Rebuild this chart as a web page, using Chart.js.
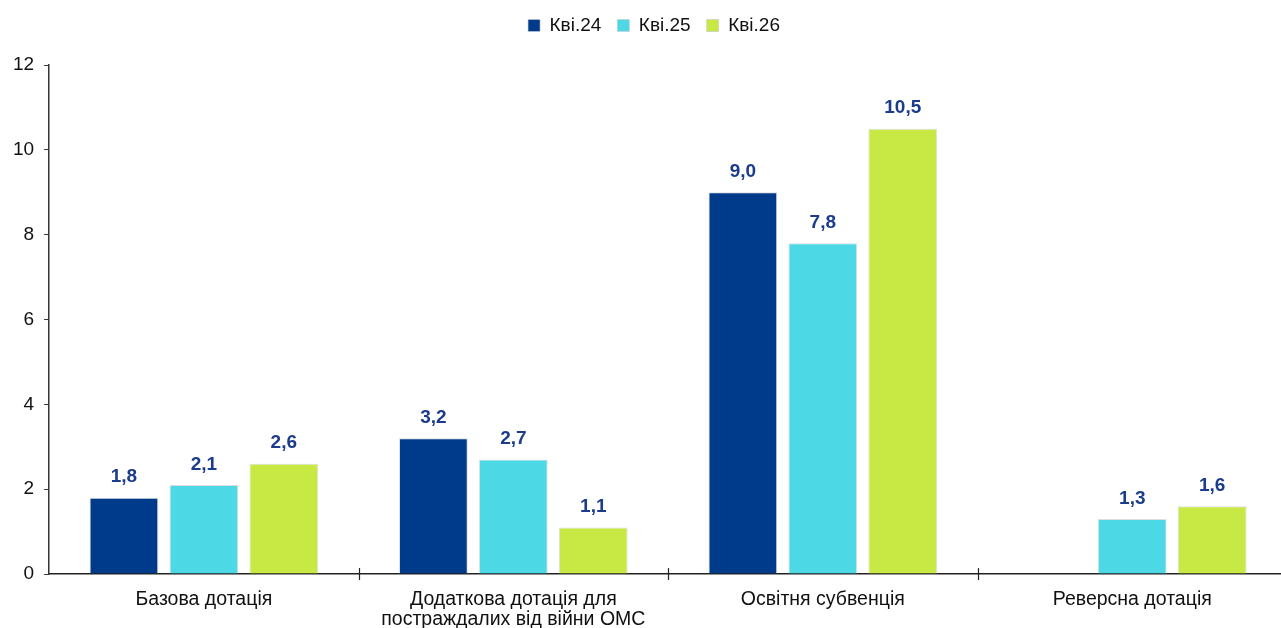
<!DOCTYPE html>
<html>
<head>
<meta charset="utf-8">
<script src="https://cdn.jsdelivr.net/npm/chart.js@4/dist/chart.umd.min.js"></script>
<style>
  html,body{margin:0;padding:0;background:#fff;overflow:hidden;}
  #wrap{width:1290px;height:637px;}
</style>
</head>
<body>
<div id="wrap"><canvas id="chart" width="1290" height="637"></canvas></div>
<script>
const categories = ["Базова дотація", ["Додаткова дотація для", "постраждалих від війни ОМС"], "Освітня субвенція", "Реверсна дотація"];
const seriesNames = ["Кві.24", "Кві.25", "Кві.26"];
const kvi24 = [1.8, 3.2, 9.0, null];
const kvi25 = [2.1, 2.7, 7.8, 1.3];
const kvi26 = [2.6, 1.1, 10.5, 1.6];
const colors = ["#003A8A", "#4DD8E6", "#C8E843"];
const yTicks = [0, 2, 4, 6, 8, 10, 12];

const FONT = "'Liberation Sans', Arial, sans-serif";

// extra space under the legend, and nudge it right a little
const legendGap = {
  id: 'legendGap',
  beforeInit(chart){
    const lg = chart.legend;
    const fit = lg.fit;
    lg.fit = function(){
      fit.call(this);
      this.height += 20;
    };
    const draw = lg.draw;
    lg.draw = function(){
      this.ctx.save();
      this.ctx.translate(9, 0);
      draw.call(this);
      this.ctx.restore();
    };
  }
};

// value labels above bars (1 decimal, comma)
const valueLabels = {
  id: 'valueLabels',
  afterDatasetsDraw(chart){
    const ctx = chart.ctx;
    ctx.save();
    ctx.font = "bold 19px " + FONT;
    ctx.fillStyle = "#1B3C8C";
    ctx.textAlign = "center";
    ctx.textBaseline = "bottom";
    chart.data.datasets.forEach((ds, di) => {
      chart.getDatasetMeta(di).data.forEach((bar, i) => {
        const v = ds.data[i];
        if (v === null || v === undefined) return;
        ctx.fillText(v.toFixed(1).replace('.', ','), bar.x, bar.y - 11);
      });
    });
    ctx.restore();
  }
};

// cross ticks on the category axis at group boundaries
const crossTicks = {
  id: 'crossTicks',
  afterDraw(chart){
    const x = chart.scales.x, y0 = chart.chartArea.bottom;
    const ctx = chart.ctx;
    ctx.save();
    ctx.strokeStyle = "#222";
    ctx.lineWidth = 1.2;
    for (let i = 1; i <= categories.length; i++) {
      const px = Math.round(x.getPixelForValue(i - 0.5)) + 0.5;
      ctx.beginPath();
      ctx.moveTo(px, y0 - 6);
      ctx.lineTo(px, y0 + 6);
      ctx.stroke();
    }
    ctx.restore();
  }
};

const datasets = [kvi24, kvi25, kvi26].map((d, i) => ({
  label: seriesNames[i],
  data: d,
  backgroundColor: colors[i],
  borderColor: "rgba(200,200,200,0.6)",
  borderWidth: 1,
  barPercentage: 0.86,
  categoryPercentage: 0.775
}));

new Chart(document.getElementById('chart'), {
  type: 'bar',
  data: { labels: categories, datasets },
  plugins: [legendGap, valueLabels, crossTicks],
  options: {
    responsive: false,
    animation: false,
    layout: { padding: { left: 3, right: 3, top: 0, bottom: 0 } },
    plugins: {
      legend: {
        position: 'top',
        labels: {
          font: { family: FONT, size: 19 },
          color: "#111",
          boxWidth: 12,
          boxHeight: 12,
          padding: 16
        }
      },
      tooltip: { enabled: false }
    },
    scales: {
      x: {
        grid: { display: false },
        border: { display: true, color: "#222", width: 1.5 },
        ticks: {
          font: { family: FONT, size: 19.5, lineHeight: 1.05 },
          color: "#111",
          padding: 7,
          maxRotation: 0,
          autoSkip: false
        }
      },
      y: {
        min: 0,
        max: 12,
        afterBuildTicks(scale){ scale.ticks = yTicks.map(v => ({ value: v })); },
        grid: { drawOnChartArea: false, drawTicks: true, tickLength: 5, color: "#333" },
        border: { display: true, color: "#333", width: 1.5 },
        ticks: {
          font: { family: FONT, size: 19 },
          color: "#111",
          padding: 10
        }
      }
    }
  }
});
</script>
</body>
</html>
